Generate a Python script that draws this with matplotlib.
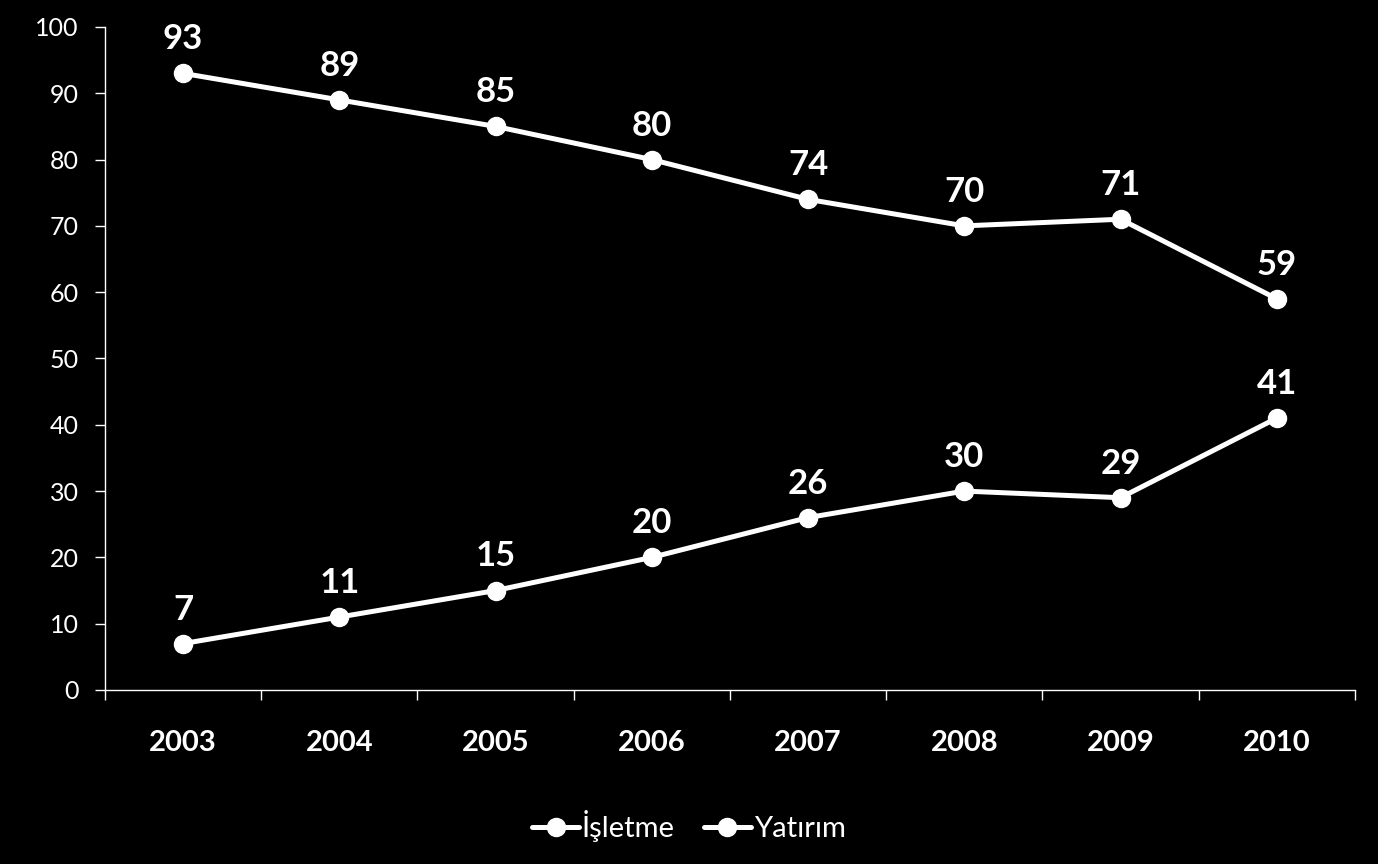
import numpy as np
import matplotlib
matplotlib.use('Agg')
import matplotlib.pyplot as plt

years = ['2003', '2004', '2005', '2006', '2007', '2008', '2009', '2010']
isletme = [93, 89, 85, 80, 74, 70, 71, 59]
yatirim = [7, 11, 15, 20, 26, 30, 29, 41]
y_ticks = list(range(0, 101, 10))

plt.rcParams['font.family'] = ['Lato', 'DejaVu Sans']

fig = plt.figure(figsize=(13.78, 8.64), dpi=100, facecolor='black')
ax = fig.add_axes([0.0762, 0.2014, 0.907, 0.7674])
ax.set_facecolor('black')

x = np.arange(len(years))
for vals, name in [(isletme, 'İşletme'), (yatirim, 'Yatırım')]:
    ax.plot(x, vals, color='white', lw=3.6, marker='o', ms=13,
            mfc='white', mec='white', label=name, solid_capstyle='round')
    for xi, v in zip(x, vals):
        ax.annotate(str(v), (xi, v), xytext=(0, 13), textcoords='offset points',
                    ha='center', va='bottom', color='white',
                    fontsize=25, fontweight='bold')

ax.set_xlim(-0.5, len(years) - 0.5)
ax.set_ylim(0, 100)
ax.set_yticks(y_ticks)
ax.set_yticklabels([str(t) for t in y_ticks])

# category boundaries as major ticks, labels on minor ticks
ax.set_xticks(np.arange(len(years) + 1) - 0.5)
ax.set_xticklabels([])
ax.set_xticks(x, minor=True)
ax.set_xticklabels(years, minor=True)
ax.tick_params(axis='x', which='major', length=7, width=1, color='white', direction='out')
ax.tick_params(axis='x', which='minor', length=0, pad=29, labelsize=21, labelcolor='white')
for lbl in ax.get_xticklabels(minor=True):
    lbl.set_fontweight('bold')
ax.tick_params(axis='y', length=7, width=1, color='white', direction='out',
               pad=12, labelsize=18, labelcolor='white')

for s in ['top', 'right']:
    ax.spines[s].set_visible(False)
for s in ['left', 'bottom']:
    ax.spines[s].set_color('white')
    ax.spines[s].set_linewidth(1)

leg = fig.legend(loc='center', bbox_to_anchor=(0.5, 0.044), ncol=2, frameon=False,
                 handlelength=1.6, handletextpad=0.1, columnspacing=1.0,
                 fontsize=21, labelcolor='white')

fig.savefig('out.png', dpi=100, facecolor='black')
